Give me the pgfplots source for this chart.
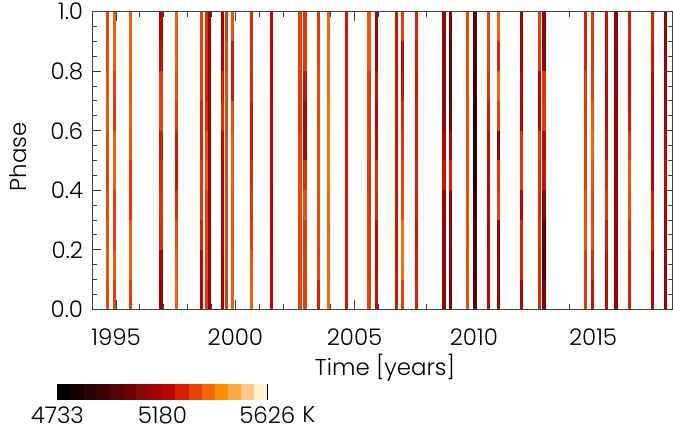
\documentclass[border=0pt]{standalone}
\usepackage{fontspec}
\setmainfont{Poppins}[UprightFont=* Light]
\usepackage{pgfplots}
\pgfplotsset{compat=1.18}

\definecolor{axisgray}{gray}{0.25}
\definecolor{cm0}{RGB}{0,0,0}
\definecolor{cm1}{RGB}{24,0,0}
\definecolor{cm2}{RGB}{40,4,4}
\definecolor{cm3}{RGB}{64,0,0}
\definecolor{cm4}{RGB}{84,4,4}
\definecolor{cm5}{RGB}{112,0,0}
\definecolor{cm6}{RGB}{136,8,8}
\definecolor{cm7}{RGB}{160,0,0}
\definecolor{cm8}{RGB}{184,4,4}
\definecolor{cm9}{RGB}{216,32,0}
\definecolor{cm10}{RGB}{232,68,8}
\definecolor{cm11}{RGB}{248,100,8}
\definecolor{cm12}{RGB}{255,140,0}
\definecolor{cm13}{RGB}{255,168,72}
\definecolor{cm14}{RGB}{255,200,136}
\definecolor{cm15}{RGB}{255,240,208}

\newcommand{\lab}{\fontsize{23}{27}\selectfont}

\pgfplotsset{
  colormap={idlheat}{rgb255(0cm)=(0,0,0); rgb255(1cm)=(24,0,0); rgb255(2cm)=(40,4,4);
    rgb255(3cm)=(64,0,0); rgb255(4cm)=(84,4,4); rgb255(5cm)=(112,0,0); rgb255(6cm)=(136,8,8);
    rgb255(7cm)=(160,0,0); rgb255(8cm)=(184,4,4); rgb255(9cm)=(216,32,0); rgb255(10cm)=(232,68,8);
    rgb255(11cm)=(248,100,8); rgb255(12cm)=(255,140,0); rgb255(13cm)=(255,168,72);
    rgb255(14cm)=(255,200,136); rgb255(15cm)=(255,240,208)},
  stripe/.style={mesh, line width=3.2bp, point meta=explicit, forget plot},
  cell/.style={ybar interval, draw=none, fill=#1, forget plot},
}

\begin{document}
\begin{tikzpicture}
\begin{axis}[
  scale only axis, width=580.2bp, height=297.6bp,
  xmin=1994, xmax=2018.33, ymin=0, ymax=1,
  colormap name=idlheat,
  point meta min=4733, point meta max=5626,
  xtick={1995,2000,2005,2010,2015}, minor x tick num=4,
  ytick={0,0.2,0.4,0.6,0.8,1}, minor y tick num=3,
  tick align=inside,
  major tick length=9bp, minor tick length=5bp,
  axis line style={axisgray, line width=1bp},
  tick style={axisgray, line width=1bp},
  x tick label style={/pgf/number format/1000 sep={}, /pgf/number format/assume math mode=true,
    inner sep=0pt, anchor=north, yshift=-19bp, font=\lab},
  y tick label style={/pgf/number format/fixed, /pgf/number format/fixed zerofill,
    /pgf/number format/precision=1, /pgf/number format/assume math mode=true,
    inner sep=0pt, anchor=east, xshift=-9bp, font=\lab},
  xlabel={Time [years]}, ylabel={Phase},
  every axis x label/.style={at={(axis description cs:0.5,0)}, anchor=base, yshift=-66bp, xshift=2.6bp, font=\lab},
  every axis y label/.style={at={(axis description cs:-0.128,0.513)}, anchor=center, rotate=90, font=\lab},
]
\addplot[stripe] coordinates {(1994.65,0)[5330] (1994.65,0.1)[5350] (1994.65,0.2)[5370] (1994.65,0.3)[5340] (1994.65,0.4)[5330] (1994.65,0.5)[5320] (1994.65,0.6)[5360] (1994.65,0.7)[5380] (1994.65,0.8)[5340] (1994.65,0.9)[5330] (1994.65,1)[5320]};
\addplot[stripe] coordinates {(1994.92,0)[5290] (1994.92,0.1)[5360] (1994.92,0.2)[5370] (1994.92,0.3)[5260] (1994.92,0.4)[5370] (1994.92,0.5)[5380] (1994.92,0.6)[5370] (1994.92,0.7)[5250] (1994.92,0.8)[5380] (1994.92,0.9)[5370] (1994.92,1)[5380]};
\addplot[stripe] coordinates {(1995.59,0)[5260] (1995.59,0.1)[5370] (1995.59,0.2)[5380] (1995.59,0.3)[5370] (1995.59,0.4)[5240] (1995.59,0.5)[5360] (1995.59,0.6)[5380] (1995.59,0.7)[5370] (1995.59,0.8)[5370] (1995.59,0.9)[5380] (1995.59,1)[5380]};
\addplot[stripe] coordinates {(1996.88,0)[5150] (1996.88,0.1)[5120] (1996.88,0.2)[5280] (1996.88,0.3)[5300] (1996.88,0.4)[5300] (1996.88,0.5)[5270] (1996.88,0.6)[5250] (1996.88,0.7)[5400] (1996.88,0.8)[5240] (1996.88,0.9)[5220] (1996.88,1)[5200]};
\addplot[stripe] coordinates {(1997.52,0)[5380] (1997.52,0.1)[5380] (1997.52,0.2)[5360] (1997.52,0.3)[5340] (1997.52,0.4)[5250] (1997.52,0.5)[5240] (1997.52,0.6)[5280] (1997.52,0.7)[5340] (1997.52,0.8)[5360] (1997.52,0.9)[5370] (1997.52,1)[5380]};
\addplot[stripe] coordinates {(1998.59,0)[5200] (1998.59,0.1)[5180] (1998.59,0.2)[5250] (1998.59,0.3)[5300] (1998.59,0.4)[5320] (1998.59,0.5)[5300] (1998.59,0.6)[5260] (1998.59,0.7)[5300] (1998.59,0.8)[5330] (1998.59,0.9)[5320] (1998.59,1)[5330]};
\addplot[stripe] coordinates {(1998.80,0)[5300] (1998.80,0.1)[5320] (1998.80,0.2)[5340] (1998.80,0.3)[5300] (1998.80,0.4)[5350] (1998.80,0.5)[5380] (1998.80,0.6)[5300] (1998.80,0.7)[5280] (1998.80,0.8)[5260] (1998.80,0.9)[5300] (1998.80,1)[5280]};
\addplot[stripe] coordinates {(1998.93,0)[5150] (1998.93,0.1)[5160] (1998.93,0.2)[5180] (1998.93,0.3)[5150] (1998.93,0.4)[5140] (1998.93,0.5)[5150] (1998.93,0.6)[5170] (1998.93,0.7)[5160] (1998.93,0.8)[5150] (1998.93,0.9)[5160] (1998.93,1)[5150]};
\addplot[stripe] coordinates {(1999.47,0)[5170] (1999.47,0.1)[5160] (1999.47,0.2)[5180] (1999.47,0.3)[5200] (1999.47,0.4)[5180] (1999.47,0.5)[5200] (1999.47,0.6)[5240] (1999.47,0.7)[5330] (1999.47,0.8)[5200] (1999.47,0.9)[5180] (1999.47,1)[5160]};
\addplot[stripe] coordinates {(1999.62,0)[5300] (1999.62,0.1)[5320] (1999.62,0.2)[5330] (1999.62,0.3)[5340] (1999.62,0.4)[5330] (1999.62,0.5)[5320] (1999.62,0.6)[5340] (1999.62,0.7)[5330] (1999.62,0.8)[5340] (1999.62,0.9)[5320] (1999.62,1)[5300]};
\addplot[stripe] coordinates {(1999.89,0)[5380] (1999.89,0.1)[5370] (1999.89,0.2)[5360] (1999.89,0.3)[5350] (1999.89,0.4)[5370] (1999.89,0.5)[5380] (1999.89,0.6)[5370] (1999.89,0.7)[5330] (1999.89,0.8)[5180] (1999.89,0.9)[5330] (1999.89,1)[5370]};
\addplot[stripe] coordinates {(2000.67,0)[5360] (2000.67,0.1)[5400] (2000.67,0.2)[5330] (2000.67,0.3)[5300] (2000.67,0.4)[5300] (2000.67,0.5)[5280] (2000.67,0.6)[5220] (2000.67,0.7)[5280] (2000.67,0.8)[5300] (2000.67,0.9)[5290] (2000.67,1)[5280]};
\addplot[stripe] coordinates {(2001.52,0)[5220] (2001.52,0.1)[5230] (2001.52,0.2)[5220] (2001.52,0.3)[5210] (2001.52,0.4)[5230] (2001.52,0.5)[5220] (2001.52,0.6)[5230] (2001.52,0.7)[5220] (2001.52,0.8)[5210] (2001.52,0.9)[5230] (2001.52,1)[5220]};
\addplot[stripe] coordinates {(2002.71,0)[5330] (2002.71,0.1)[5330] (2002.71,0.2)[5320] (2002.71,0.3)[5330] (2002.71,0.4)[5340] (2002.71,0.5)[5330] (2002.71,0.6)[5320] (2002.71,0.7)[5300] (2002.71,0.8)[5320] (2002.71,0.9)[5330] (2002.71,1)[5320]};
\addplot[stripe] coordinates {(2002.92,0)[5320] (2002.92,0.1)[5330] (2002.92,0.2)[5300] (2002.92,0.3)[5320] (2002.92,0.4)[5390] (2002.92,0.5)[5200] (2002.92,0.6)[5200] (2002.92,0.7)[5180] (2002.92,0.8)[5300] (2002.92,0.9)[5320] (2002.92,1)[5300]};
\addplot[stripe] coordinates {(2003.49,0)[5220] (2003.49,0.1)[5320] (2003.49,0.2)[5340] (2003.49,0.3)[5330] (2003.49,0.4)[5350] (2003.49,0.5)[5340] (2003.49,0.6)[5330] (2003.49,0.7)[5340] (2003.49,0.8)[5330] (2003.49,0.9)[5320] (2003.49,1)[5300]};
\addplot[stripe] coordinates {(2003.92,0)[5400] (2003.92,0.1)[5400] (2003.92,0.2)[5380] (2003.92,0.3)[5400] (2003.92,0.4)[5390] (2003.92,0.5)[5420] (2003.92,0.6)[5420] (2003.92,0.7)[5400] (2003.92,0.8)[5390] (2003.92,0.9)[5400] (2003.92,1)[5380]};
\addplot[stripe] coordinates {(2004.65,0)[5260] (2004.65,0.1)[5250] (2004.65,0.2)[5260] (2004.65,0.3)[5250] (2004.65,0.4)[5240] (2004.65,0.5)[5250] (2004.65,0.6)[5260] (2004.65,0.7)[5240] (2004.65,0.8)[5250] (2004.65,0.9)[5260] (2004.65,1)[5240]};
\addplot[stripe] coordinates {(2005.60,0)[5330] (2005.60,0.1)[5320] (2005.60,0.2)[5300] (2005.60,0.3)[5320] (2005.60,0.4)[5300] (2005.60,0.5)[5310] (2005.60,0.6)[5320] (2005.60,0.7)[5310] (2005.60,0.8)[5320] (2005.60,0.9)[5400] (2005.60,1)[5330]};
\addplot[stripe] coordinates {(2005.91,0)[5240] (2005.91,0.1)[5220] (2005.91,0.2)[5230] (2005.91,0.3)[5220] (2005.91,0.4)[5350] (2005.91,0.5)[5250] (2005.91,0.6)[5200] (2005.91,0.7)[5220] (2005.91,0.8)[5240] (2005.91,0.9)[5100] (2005.91,1)[5230]};
\addplot[stripe] coordinates {(2006.75,0)[5250] (2006.75,0.1)[5260] (2006.75,0.2)[5250] (2006.75,0.3)[5240] (2006.75,0.4)[5260] (2006.75,0.5)[5250] (2006.75,0.6)[5240] (2006.75,0.7)[5260] (2006.75,0.8)[5250] (2006.75,0.9)[5250] (2006.75,1)[5260]};
\addplot[stripe] coordinates {(2007.00,0)[5320] (2007.00,0.1)[5330] (2007.00,0.2)[5480] (2007.00,0.3)[5350] (2007.00,0.4)[5330] (2007.00,0.5)[5320] (2007.00,0.6)[5300] (2007.00,0.7)[5280] (2007.00,0.8)[5200] (2007.00,0.9)[5250] (2007.00,1)[5380]};
\addplot[stripe] coordinates {(2007.61,0)[5280] (2007.61,0.1)[5280] (2007.61,0.2)[5250] (2007.61,0.3)[5260] (2007.61,0.4)[5280] (2007.61,0.5)[5270] (2007.61,0.6)[5260] (2007.61,0.7)[5270] (2007.61,0.8)[5250] (2007.61,0.9)[5280] (2007.61,1)[5270]};
\addplot[stripe] coordinates {(2008.75,0)[5100] (2008.75,0.1)[5120] (2008.75,0.2)[5110] (2008.75,0.3)[5120] (2008.75,0.4)[5180] (2008.75,0.5)[5300] (2008.75,0.6)[5120] (2008.75,0.7)[5110] (2008.75,0.8)[5100] (2008.75,0.9)[5120] (2008.75,1)[5110]};
\addplot[stripe] coordinates {(2009.01,0)[5080] (2009.01,0.1)[5060] (2009.01,0.2)[5100] (2009.01,0.3)[5090] (2009.01,0.4)[5200] (2009.01,0.5)[5330] (2009.01,0.6)[5060] (2009.01,0.7)[5040] (2009.01,0.8)[4950] (2009.01,0.9)[5060] (2009.01,1)[5080]};
\addplot[stripe] coordinates {(2009.72,0)[5340] (2009.72,0.1)[5350] (2009.72,0.2)[5340] (2009.72,0.3)[5360] (2009.72,0.4)[5350] (2009.72,0.5)[5340] (2009.72,0.6)[5350] (2009.72,0.7)[5340] (2009.72,0.8)[5350] (2009.72,0.9)[5340] (2009.72,1)[5330]};
\addplot[stripe] coordinates {(2010.05,0)[5000] (2010.05,0.1)[4980] (2010.05,0.2)[4950] (2010.05,0.3)[4960] (2010.05,0.4)[4880] (2010.05,0.5)[4850] (2010.05,0.6)[4860] (2010.05,0.7)[4880] (2010.05,0.8)[4950] (2010.05,0.9)[4980] (2010.05,1)[5000]};
\addplot[stripe] coordinates {(2010.60,0)[5200] (2010.60,0.1)[5220] (2010.60,0.2)[5200] (2010.60,0.3)[5210] (2010.60,0.4)[5220] (2010.60,0.5)[5230] (2010.60,0.6)[5240] (2010.60,0.7)[5280] (2010.60,0.8)[5320] (2010.60,0.9)[5340] (2010.60,1)[5330]};
\addplot[stripe] coordinates {(2011.02,0)[5100] (2011.02,0.1)[5100] (2011.02,0.2)[5120] (2011.02,0.3)[5150] (2011.02,0.4)[5500] (2011.02,0.5)[5100] (2011.02,0.6)[5080] (2011.02,0.7)[5560] (2011.02,0.8)[5200] (2011.02,0.9)[5350] (2011.02,1)[5420]};
\addplot[stripe] coordinates {(2011.99,0)[5180] (2011.99,0.1)[5200] (2011.99,0.2)[5350] (2011.99,0.3)[5200] (2011.99,0.4)[5220] (2011.99,0.5)[5400] (2011.99,0.6)[5200] (2011.99,0.7)[5210] (2011.99,0.8)[5220] (2011.99,0.9)[5100] (2011.99,1)[5230]};
\addplot[stripe] coordinates {(2012.74,0)[5300] (2012.74,0.1)[5280] (2012.74,0.2)[5300] (2012.74,0.3)[5300] (2012.74,0.4)[5290] (2012.74,0.5)[5300] (2012.74,0.6)[5310] (2012.74,0.7)[5120] (2012.74,0.8)[5300] (2012.74,0.9)[5310] (2012.74,1)[5330]};
\addplot[stripe] coordinates {(2012.94,0)[5080] (2012.94,0.1)[5050] (2012.94,0.2)[4900] (2012.94,0.3)[5060] (2012.94,0.4)[5150] (2012.94,0.5)[5330] (2012.94,0.6)[5120] (2012.94,0.7)[5500] (2012.94,0.8)[5100] (2012.94,0.9)[5080] (2012.94,1)[5150]};
\addplot[stripe] coordinates {(2014.67,0)[5320] (2014.67,0.1)[5300] (2014.67,0.2)[5320] (2014.67,0.3)[5380] (2014.67,0.4)[5300] (2014.67,0.5)[5330] (2014.67,0.6)[5300] (2014.67,0.7)[5320] (2014.67,0.8)[5300] (2014.67,0.9)[5250] (2014.67,1)[5280]};
\addplot[stripe] coordinates {(2014.96,0)[5220] (2014.96,0.1)[5260] (2014.96,0.2)[5330] (2014.96,0.3)[5350] (2014.96,0.4)[5330] (2014.96,0.5)[5380] (2014.96,0.6)[5400] (2014.96,0.7)[5330] (2014.96,0.8)[5320] (2014.96,0.9)[5300] (2014.96,1)[5330]};
\addplot[stripe] coordinates {(2015.56,0)[5220] (2015.56,0.1)[5230] (2015.56,0.2)[5240] (2015.56,0.3)[5280] (2015.56,0.4)[5330] (2015.56,0.5)[5240] (2015.56,0.6)[5230] (2015.56,0.7)[5220] (2015.56,0.8)[5230] (2015.56,0.9)[5240] (2015.56,1)[5230]};
\addplot[stripe] coordinates {(2015.96,0)[5130] (2015.96,0.1)[5140] (2015.96,0.2)[5130] (2015.96,0.3)[5140] (2015.96,0.4)[5130] (2015.96,0.5)[5120] (2015.96,0.6)[5130] (2015.96,0.7)[5140] (2015.96,0.8)[5100] (2015.96,0.9)[5120] (2015.96,1)[5060]};
\addplot[stripe] coordinates {(2016.52,0)[5280] (2016.52,0.1)[5260] (2016.52,0.2)[5300] (2016.52,0.3)[5320] (2016.52,0.4)[5380] (2016.52,0.5)[5360] (2016.52,0.6)[5270] (2016.52,0.7)[5250] (2016.52,0.8)[5240] (2016.52,0.9)[5260] (2016.52,1)[5280]};
\addplot[stripe] coordinates {(2017.49,0)[5220] (2017.49,0.1)[5200] (2017.49,0.2)[5240] (2017.49,0.3)[5320] (2017.49,0.4)[5210] (2017.49,0.5)[5200] (2017.49,0.6)[5220] (2017.49,0.7)[5210] (2017.49,0.8)[5230] (2017.49,0.9)[5260] (2017.49,1)[5300]};
\addplot[stripe] coordinates {(2018.02,0)[5130] (2018.02,0.1)[5150] (2018.02,0.2)[5140] (2018.02,0.3)[5160] (2018.02,0.4)[5200] (2018.02,0.5)[5250] (2018.02,0.6)[5160] (2018.02,0.7)[5140] (2018.02,0.8)[5130] (2018.02,0.9)[5120] (2018.02,1)[5100]};
\end{axis}

% colour bar
\begin{axis}[
  at={(-35bp,-74.7bp)}, anchor=north west,
  scale only axis, width=210bp, height=16bp,
  xmin=4733, xmax=5626, ymin=0, ymax=1,
  axis line style={draw=none}, ytick=\empty, xtick pos=left,
  xtick={4733,5180,5626}, major tick length=0pt,
  x tick label style={/pgf/number format/1000 sep={}, /pgf/number format/assume math mode=true,
    inner sep=0pt, anchor=north, yshift=-6.7bp, font=\lab},
  clip=false,
]
\addplot[cell=cm0] coordinates {(4733.0,1) (4788.8,1)};
\addplot[cell=cm1] coordinates {(4788.8,1) (4844.6,1)};
\addplot[cell=cm2] coordinates {(4844.6,1) (4900.4,1)};
\addplot[cell=cm3] coordinates {(4900.4,1) (4956.3,1)};
\addplot[cell=cm4] coordinates {(4956.3,1) (5012.1,1)};
\addplot[cell=cm5] coordinates {(5012.1,1) (5067.9,1)};
\addplot[cell=cm6] coordinates {(5067.9,1) (5123.7,1)};
\addplot[cell=cm7] coordinates {(5123.7,1) (5179.5,1)};
\addplot[cell=cm8] coordinates {(5179.5,1) (5235.3,1)};
\addplot[cell=cm9] coordinates {(5235.3,1) (5291.1,1)};
\addplot[cell=cm10] coordinates {(5291.1,1) (5346.9,1)};
\addplot[cell=cm11] coordinates {(5346.9,1) (5402.8,1)};
\addplot[cell=cm12] coordinates {(5402.8,1) (5458.6,1)};
\addplot[cell=cm13] coordinates {(5458.6,1) (5514.4,1)};
\addplot[cell=cm14] coordinates {(5514.4,1) (5570.2,1)};
\addplot[cell=cm15] coordinates {(5570.2,1) (5626.0,1)};
\draw[black, line width=1bp] (axis cs:5626,0) -- (axis cs:5626,1);
\node[anchor=north west, inner sep=0pt, font=\lab] at (axis cs:5774,0) [yshift=-6.7bp] {K};
\end{axis}

\pgfresetboundingbox
\path[use as bounding box] (-92.3bp,-121.7bp) rectangle (580.7bp,309.3bp);
\end{tikzpicture}
\end{document}
